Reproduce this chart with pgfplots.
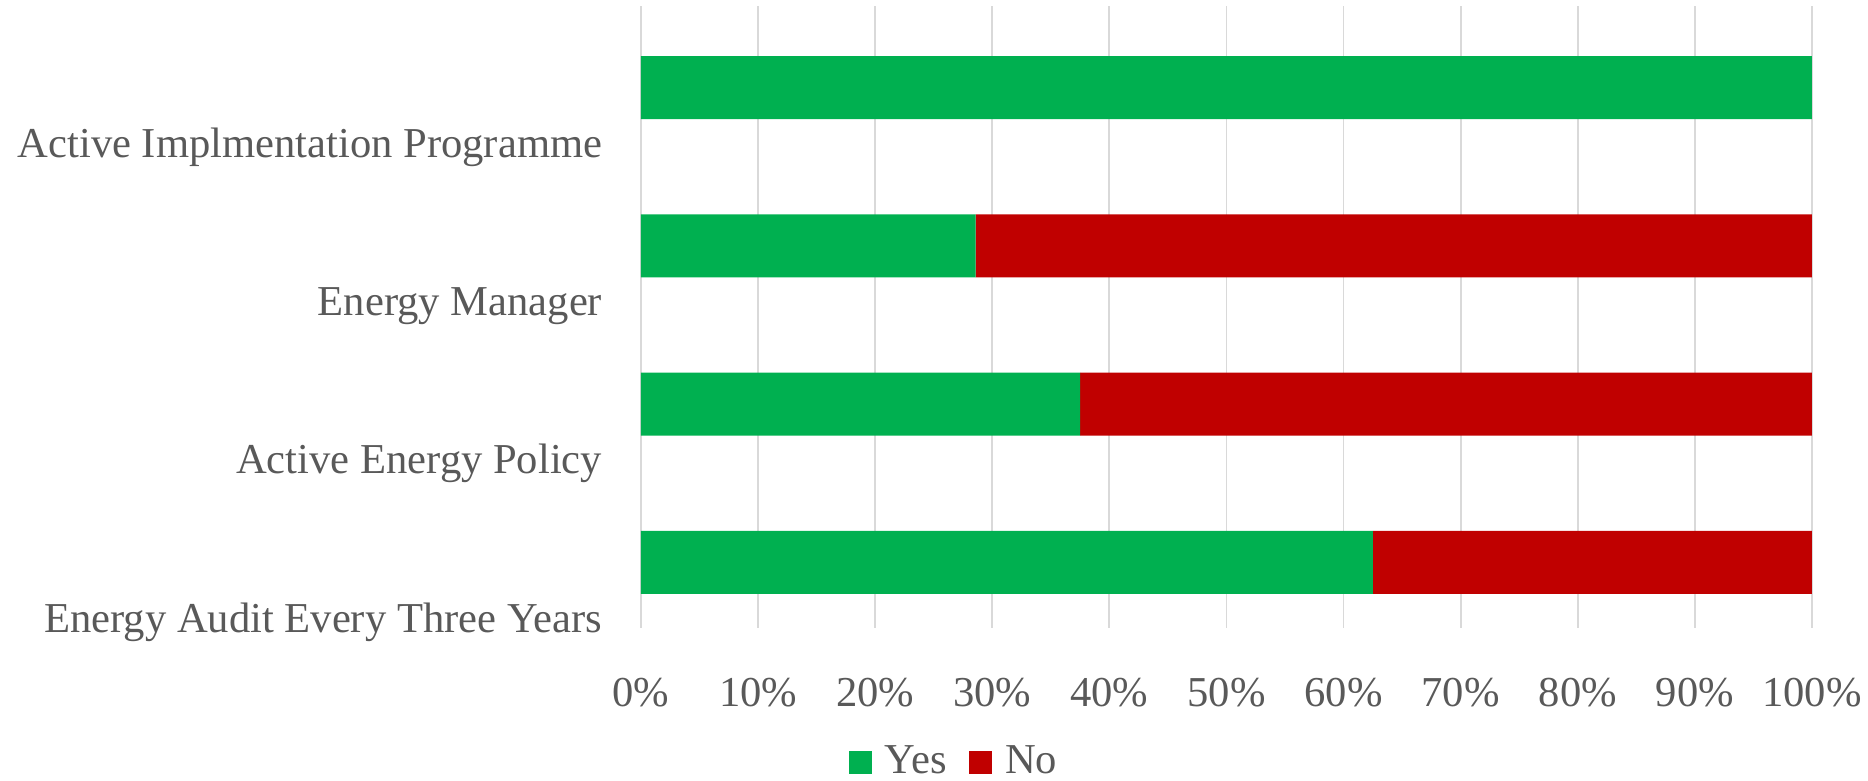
\documentclass[border=0pt]{standalone}
\usepackage{fontspec}
\setmainfont{Liberation Serif}
\usepackage{pgfplots}
\pgfplotsset{compat=1.18}
\definecolor{cyes}{HTML}{00B050}
\definecolor{cno}{HTML}{C00000}
\definecolor{ctxt}{HTML}{595959}
\definecolor{cgrid}{HTML}{D9D9D9}
\newcommand{\lblfont}{\fontsize{10.65pt}{12.7pt}\selectfont}
\begin{document}
\begin{tikzpicture}
\begin{axis}[
  scale only axis,
  width=292.75pt, height=155.5pt,
  xbar stacked,
  bar width=15.75pt,
  xmin=0, xmax=100,
  ymin=-0.4137, ymax=3.515,
  xtick={0,10,...,100},
  xticklabels={0\%,10\%,20\%,30\%,40\%,50\%,60\%,70\%,80\%,90\%,100\%},
  ytick={0,1,2,3},
  yticklabels={Energy Audit Every Three Years, Active Energy Policy, Energy Manager, Active Implmentation Programme},
  xmajorgrids,
  major grid style={cgrid, line width=0.45pt},
  axis line style={draw=none},
  tick style={draw=none},
  xticklabel style={font=\lblfont, text=ctxt, anchor=base, inner sep=0pt, yshift=-19.7pt},
  yticklabel style={font=\lblfont, text=ctxt, anchor=base east, inner sep=0pt, xshift=-9.5pt, yshift=-17.4pt},
  legend columns=2,
  legend style={draw=none, fill=none, at={(0.1665,-0.2167)}, anchor=west,
    font=\lblfont, text=ctxt,
    nodes={inner sep=0pt},
    column sep=3.2pt,
    /tikz/every even column/.append style={column sep=5.6pt}},
  legend image code/.code={\fill[#1] (0pt,-2.9pt) rectangle (5.8pt,2.9pt);},
]
\addplot[fill=cyes, draw=none] coordinates {(62.5,0) (37.5,1) (28.57,2) (100,3)};
\addlegendentry{Yes}
\addplot[fill=cno, draw=none] coordinates {(37.5,0) (62.5,1) (71.43,2) (0,3)};
\addlegendentry{No}
\end{axis}
\pgfresetboundingbox
\path[use as bounding box] (-160.25pt,-38.25pt) rectangle (306.75pt,157pt);
\end{tikzpicture}
\end{document}
